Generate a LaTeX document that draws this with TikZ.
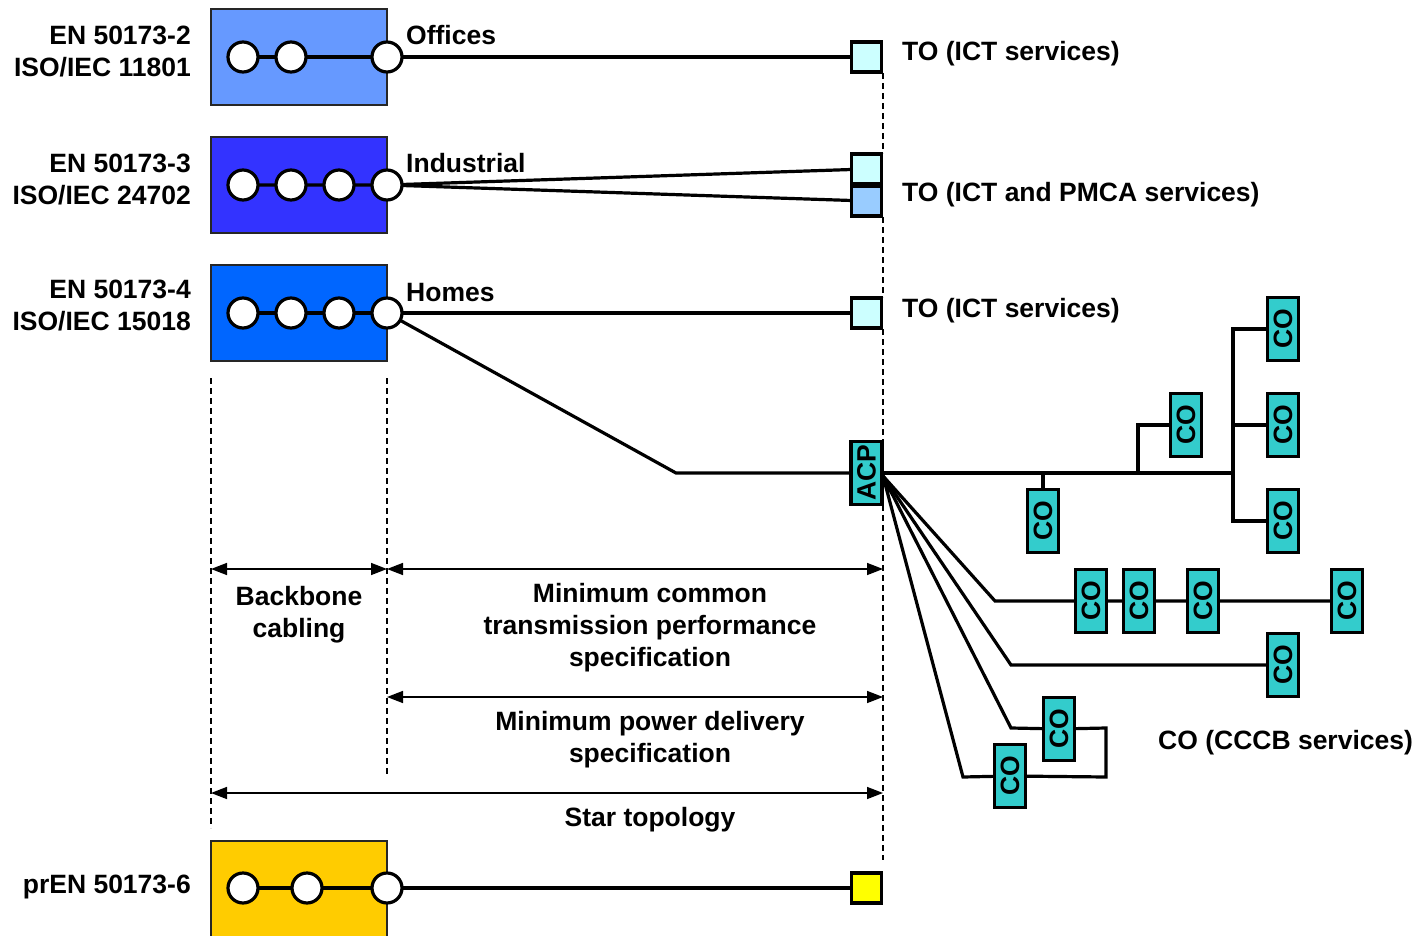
\documentclass[tikz,border=0pt]{standalone}
\usepackage{fontspec}
\setmainfont{Liberation Sans}
\usetikzlibrary{arrows.meta,backgrounds,calc}
\definecolor{boxA}{HTML}{6699FF}
\definecolor{boxB}{HTML}{3333FF}
\definecolor{boxC}{HTML}{0066FF}
\definecolor{boxD}{HTML}{FFCC00}
\definecolor{toA}{HTML}{CCFFFF}
\definecolor{toB}{HTML}{99CCFF}
\definecolor{toY}{HTML}{FFFF00}
\definecolor{cocol}{HTML}{33CCCC}
\pgfdeclarelayer{boxes}
\pgfdeclarelayer{wires}
\pgfsetlayers{boxes,wires,main}
\begin{document}
\begin{tikzpicture}[x=1pt,y=-1pt,
  font=\bfseries\fontsize{26.5}{32}\selectfont,
  lbl/.style={inner sep=0},
  sysbox/.style={draw=black!85, line width=2pt, minimum width=176pt, inner sep=0},
  port/.style={circle, draw, fill=white, line width=3.2pt, minimum size=30pt, inner sep=0},
  tobox/.style={draw, line width=3.2pt, minimum size=30pt, inner sep=0},
  cobox/.style={draw, fill=cocol, line width=3.2pt, rotate=90, minimum width=63pt, minimum height=31pt, inner sep=0},
  wire/.style={line width=3.2pt},
  guide/.style={line width=1.5pt, dash pattern=on 6pt off 4pt},
  dim/.style={{Triangle[length=16pt,width=12pt]}-{Triangle[length=16pt,width=12pt]}, line width=1.5pt}
]
\useasboundingbox (0,0) rectangle (1427,936);

% system boxes
\begin{pgfonlayer}{boxes}
\node[sysbox, fill=boxA, minimum height=96pt] (b1) at (299,57) {};
\node[sysbox, fill=boxB, minimum height=96pt] (b2) at (299,185) {};
\node[sysbox, fill=boxC, minimum height=96pt] (b3) at (299,313) {};
\node[sysbox, fill=boxD, minimum height=110pt] (b4) at (299,896) {};
\end{pgfonlayer}

% ports
\node[port] (p11) at (243,57) {};
\node[port] (p12) at (291,57) {};
\node[port] (p13) at (387,57) {};
\node[port] (p21) at (243,185) {};
\node[port] (p22) at (291,185) {};
\node[port] (p23) at (339,185) {};
\node[port] (p24) at (387,185) {};
\node[port] (p31) at (243,313) {};
\node[port] (p32) at (291,313) {};
\node[port] (p33) at (339,313) {};
\node[port] (p34) at (387,313) {};
\node[port] (p41) at (243,888) {};
\node[port] (p42) at (307,888) {};
\node[port] (p43) at (387,888) {};

% telecommunications outlets
\node[tobox, fill=toA] (to1) at (866.5,57) {};
\node[tobox, fill=toA] (to2a) at (866.5,169) {};
\node[tobox, fill=toB] (to2b) at (866.5,201) {};
\node[tobox, fill=toA] (to3) at (866.5,313) {};
\node[tobox, fill=toY] (to4) at (866.5,888) {};

% ACP and COs
\node[cobox] (acp) at (866.5,473) {ACP};
\node[cobox] (cor1) at (1283,329) {CO};
\node[cobox] (cor2) at (1283,425) {CO};
\node[cobox] (cor3) at (1283,521) {CO};
\node[cobox] (com) at (1186,425) {CO};
\node[cobox] (col) at (1043,521) {CO};
\node[cobox] (coA1) at (1091,601) {CO};
\node[cobox] (coA2) at (1139,601) {CO};
\node[cobox] (coA3) at (1203,601) {CO};
\node[cobox] (coA4) at (1347,601) {CO};
\node[cobox] (coB) at (1283,665) {CO};
\node[cobox] (coC1) at (1059,729) {CO};
\node[cobox] (coC2) at (1010,776) {CO};

\coordinate (bend) at (676,473);
\coordinate (fan) at (883,476);
\coordinate (trunk) at (1233,473);

% wires
\begin{pgfonlayer}{wires}
\draw[wire] (p11.center) -- (p13.center) -- (to1.center);
\draw[wire] (p21.center) -- (p24.center) -- (to2a.center);
\draw[wire] (p24.center) -- (to2b.center);
\draw[wire] (p31.center) -- (p34.center) -- (to3.center);
\draw[wire] (p34.center) -- (bend) -- (acp.center);
\draw[wire] (p41.center) -- (p43.center) -- (to4.center);
\draw[wire] (acp.center) -- (trunk);
\draw[wire] (cor1.center) -| (trunk);
\draw[wire] (cor3.center) -| (trunk);
\draw[wire] (cor2.center) -- (cor2.center -| trunk);
\draw[wire] (com.center) -| (1138,473);
\draw[wire] (col.center) -- (1043,473);
\draw[wire] (fan) -- (995,601) -- (coA1.center) -- (coA2.center) -- (coA3.center) -- (coA4.center);
\draw[wire] (fan) -- (1011,665) -- (coB.center);
\draw[wire] (fan) -- (1011,728) -- (coC1.center) -- (1106,728) -- (1106,777) -- (coC2.center) -- (963,777) -- (fan);
\end{pgfonlayer}

% guides
\draw[guide] (883,73) -- (883,153);
\draw[guide] (883,217) -- (883,297);
\draw[guide] (883,329) -- (883,441);
\draw[guide] (883,505) -- (883,860);
\draw[guide] (211,378) -- (211,828);
\draw[guide] (387,378) -- (387,776);

% dimension arrows
\draw[dim] (211,569) -- (387,569);
\draw[dim] (387,569) -- (883,569);
\draw[dim] (387,697) -- (883,697);
\draw[dim] (211,793) -- (883,793);

% left labels
\node[lbl, anchor=base east] (l1a) at (191,45) {EN 50173-2};
\node[lbl, anchor=base east] (l1b) at (191,77) {ISO/IEC 11801};
\node[lbl, anchor=base east] (l2a) at (191,173) {EN 50173-3};
\node[lbl, anchor=base east] (l2b) at (191,205) {ISO/IEC 24702};
\node[lbl, anchor=base east] (l3a) at (191,298) {EN 50173-4};
\node[lbl, anchor=base east] (l3b) at (191,330) {ISO/IEC 15018};
\node[lbl, anchor=base east] (l4a) at (191,893) {prEN 50173-6};

% premises labels
\node[lbl, anchor=base west] (n1) at (406,45) {Offices};
\node[lbl, anchor=base west] (n2) at (406,173) {Industrial};
\node[lbl, anchor=base west] (n3) at (406,301) {Homes};

% outlet labels
\node[lbl, anchor=base west] (t1) at (902,61) {TO (ICT services)};
\node[lbl, anchor=base west] (t2) at (902,202) {TO (ICT and PMCA services)};
\node[lbl, anchor=base west] (t3) at (902,317) {TO (ICT services)};
\node[lbl, anchor=base west] (t4) at (1158,749) {CO (CCCB services)};

% dimension texts
\node[lbl, anchor=base] (d1a) at (299,605) {Backbone};
\node[lbl, anchor=base] (d1b) at (299,637) {cabling};
\node[lbl, anchor=base] (d2a) at (650,602) {Minimum common};
\node[lbl, anchor=base] (d2b) at (650,634) {transmission performance};
\node[lbl, anchor=base] (d2c) at (650,666) {specification};
\node[lbl, anchor=base] (d3a) at (650,730) {Minimum power delivery};
\node[lbl, anchor=base] (d3b) at (650,762) {specification};
\node[lbl, anchor=base] (d4) at (650,826) {Star topology};
\end{tikzpicture}
\end{document}
